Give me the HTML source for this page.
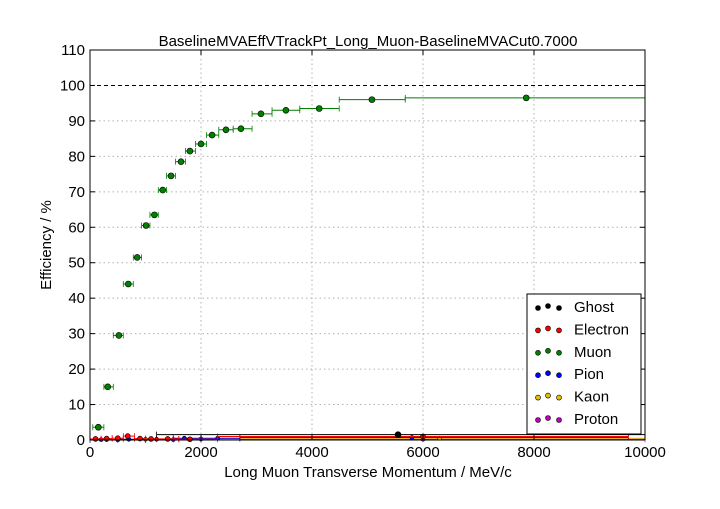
<!DOCTYPE html>
<html><head><meta charset="utf-8"><style>
body{margin:0;background:#fff;width:720px;height:504px;overflow:hidden;font-family:"Liberation Sans",sans-serif}
</style></head><body>
<svg id="chart" width="720" height="504" xmlns="http://www.w3.org/2000/svg" style="font-family:'Liberation Sans',sans-serif"></svg>
<script>
const xTicks=[0,2000,4000,6000,8000,10000];
const yTicks=[0,10,20,30,40,50,60,70,80,90,100,110];
const muonX=[150,320,520,690,850,1010,1160,1310,1460,1640,1800,2000,2200,2450,2720,3080,3530,4130,5080,7860];
const muonY=[3.6,15,29.5,44,51.5,60.5,63.5,70.5,74.5,78.5,81.5,83.5,86,87.5,87.8,92,93,93.5,96,96.5];
const muonLo=[50,250,420,600,780,930,1080,1230,1380,1540,1720,1900,2100,2320,2580,2920,3280,3780,4490,5680];
const muonHi=[250,420,600,780,930,1080,1230,1380,1540,1720,1900,2100,2320,2580,2920,3280,3780,4490,5680,10000];
const ghostX=[5550];const ghostY=[1.5];const ghostLo=[1200];const ghostHi=[10000];
const elecX=[100,300,500,680,900,1100,1400,1800,6000];
const elecY=[0.3,0.4,0.5,1.1,0.4,0.3,0.3,0.2,1.0];
const elecLo=[0,200,400,600,800,1000,1200,1600,2300];
const elecHi=[200,400,600,800,1000,1200,1600,2300,9700];
const pionX=[200,700,1200,1700,2300,5800];
const pionY=[0.1,0.2,0.2,0.5,0.5,0.7];
const pionLo=[0,500,1000,1500,2000,2700];
const pionHi=[500,1000,1500,2000,2700,9700];
const kaonX=[300,1000,2000,6300];
const kaonY=[0.1,0.2,0.3,0.5];
const kaonLo=[0,600,1500,2700];
const kaonHi=[600,1500,2700,10000];
const protX=[500,1500,6000];
const protY=[0.05,0.1,0.2];
const protLo=[0,1000,2000];
const protHi=[1000,2000,10000];

const L=90,R=645,T=50,B=440;
const sx=v=>L+(v-0)/10000*(R-L);
const sy=v=>B-(v/110)*(B-T);
const svg=document.getElementById('chart');
const NS='http://www.w3.org/2000/svg';
function mk(tag,attrs,parent){const e=document.createElementNS(NS,tag);for(const k in attrs)e.setAttribute(k,attrs[k]);(parent||svg).appendChild(e);return e;}

// grid
xTicks.forEach(t=>{if(t>0&&t<10000){const g=mk('line',{x1:sx(t),x2:sx(t),y1:T,y2:B,stroke:'#b0b0b0','stroke-dasharray':'1.5,3'});

}});
yTicks.forEach(t=>{if(t>0&&t<110&&t!==100){const g=mk('line',{x1:L,x2:R,y1:sy(t),y2:sy(t),stroke:'#b0b0b0','stroke-dasharray':'1.5,3'});

}});
const ref=mk('line',{x1:L,x2:R,y1:sy(100),y2:sy(100),stroke:'#000','stroke-dasharray':'4,3'});



function series(name,color,X,Y,Lo,Hi,r){
  const g=mk('g',{});
  
  
  X.forEach((x,i)=>{
    mk('line',{x1:sx(Lo[i]),x2:sx(Hi[i]),y1:sy(Y[i]),y2:sy(Y[i]),stroke:color,'stroke-width':1},g);
    mk('line',{x1:sx(Lo[i]),x2:sx(Lo[i]),y1:sy(Y[i])-3,y2:sy(Y[i])+3,stroke:color,'stroke-width':0.8},g);
    mk('line',{x1:sx(Hi[i]),x2:sx(Hi[i]),y1:sy(Y[i])-3,y2:sy(Y[i])+3,stroke:color,'stroke-width':0.8},g);
    const c=mk('circle',{cx:sx(x),cy:sy(Y[i]),r:r,fill:color,stroke:'#000','stroke-width':0.6},g);
    
    
  });
}
series('proton','#bf00bf',protX,protY,protLo,protHi,2);
series('kaon','#e6c000',kaonX,kaonY,kaonLo,kaonHi,2);
series('pion','#0000ff',pionX,pionY,pionLo,pionHi,2);
series('electron','#ff0000',elecX,elecY,elecLo,elecHi,2.5);
series('ghost','#000000',ghostX,ghostY,ghostLo,ghostHi,3);
series('muon','#007f00',muonX,muonY,muonLo,muonHi,3);

// frame
const fr=mk('rect',{x:L,y:T,width:R-L,height:B-T,fill:'none',stroke:'#000','stroke-width':1});


xTicks.forEach(t=>{
  mk('line',{x1:sx(t),x2:sx(t),y1:B,y2:B-5,stroke:'#000'});
  mk('line',{x1:sx(t),x2:sx(t),y1:T,y2:T+5,stroke:'#000'});
  const tx=mk('text',{x:sx(t),y:B+17,'text-anchor':'middle','font-size':15});
  tx.textContent=t;
  
  
});
yTicks.forEach(t=>{
  mk('line',{x1:L,x2:L+5,y1:sy(t),y2:sy(t),stroke:'#000'});
  mk('line',{x1:R,x2:R-5,y1:sy(t),y2:sy(t),stroke:'#000'});
  const tx=mk('text',{x:L-5,y:sy(t)+5,'text-anchor':'end','font-size':15});
  tx.textContent=t;
  
  
});
const title=mk('text',{x:368,y:46,'text-anchor':'middle','font-size':15});
title.textContent='BaselineMVAEffVTrackPt_Long_Muon-BaselineMVACut0.7000';


const xt=mk('text',{x:368,y:477,'text-anchor':'middle','font-size':15});
xt.textContent='Long Muon Transverse Momentum / MeV/c';


const yt=mk('text',{x:51,y:245,'text-anchor':'middle','font-size':15,transform:'rotate(-90 51 245)'});
yt.textContent='Efficiency / %';



// legend
const leg=mk('g',{});


mk('rect',{x:527,y:294,width:114,height:140,fill:'#fff',stroke:'#000'},leg);
const legNames=['Ghost','Electron','Muon','Pion','Kaon','Proton'];
const legColors=['#000000','#ff0000','#007f00','#0000ff','#e6c000','#bf00bf'];
legNames.forEach((n,i)=>{
  const y=307+i*22.4;
  const e=mk('g',{},leg);
  
  
  [538,548,559].forEach((x,j)=>mk('circle',{cx:x,cy:y+(j===1?-1:1),r:2.5,fill:legColors[i],stroke:'#000','stroke-width':0.6},e));
  const t=mk('text',{x:574,y:y+5,'font-size':15},e);
  t.textContent=n;
});
</script>
</body></html>
